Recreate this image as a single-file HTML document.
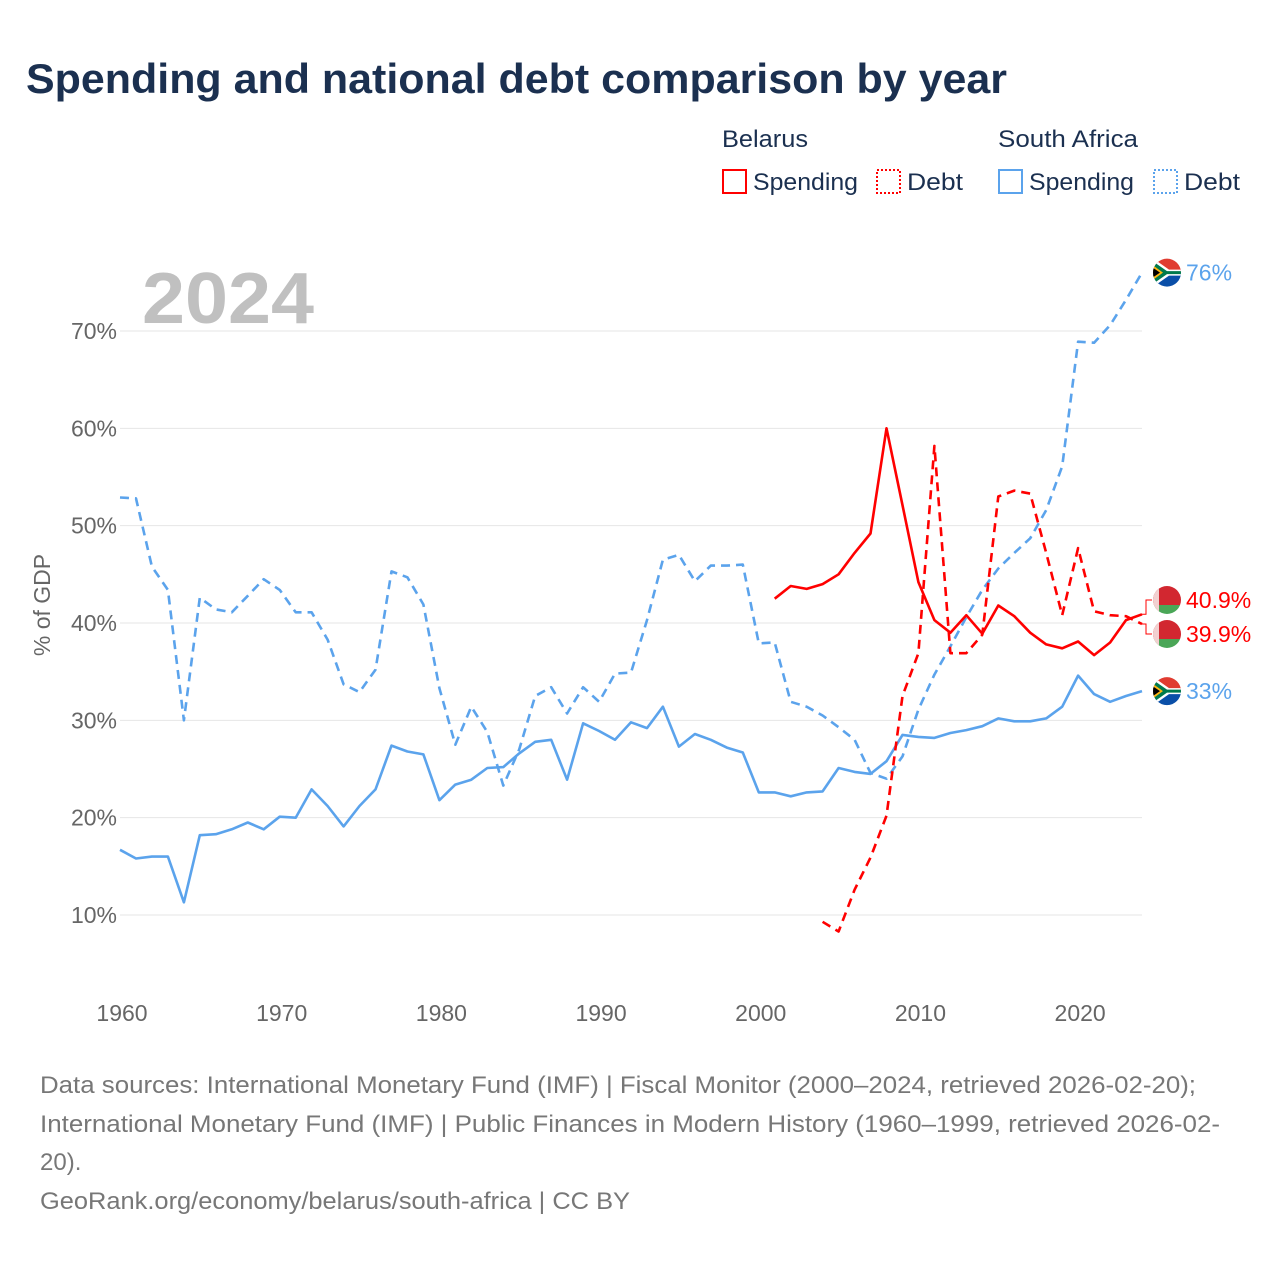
<!DOCTYPE html>
<html><head><meta charset="utf-8"><style>
body{margin:0;background:#fff;font-family:"Liberation Sans",sans-serif}
#wrap{position:relative;width:1280px;height:1280px;overflow:hidden}
</style></head><body>
<div id="wrap">
<svg id="chart" width="1280" height="1280" xmlns="http://www.w3.org/2000/svg">
<defs>
<clipPath id="c1"><circle cx="0" cy="0" r="14"/></clipPath>
</defs>
<text x="26" y="93" font-size="42" font-weight="bold" fill="#1b3050" textLength="981" lengthAdjust="spacingAndGlyphs">Spending and national debt comparison by year</text>
<g font-size="24" fill="#1b3050">
<text x="722" y="147" textLength="86" lengthAdjust="spacingAndGlyphs">Belarus</text>
<text x="998" y="147" textLength="140" lengthAdjust="spacingAndGlyphs">South Africa</text>
<g><rect x="723" y="170" width="23" height="23" fill="none" stroke="#f00" stroke-width="2"/><text x="753" y="190" textLength="105" lengthAdjust="spacingAndGlyphs">Spending</text></g>
<g><rect x="877" y="170" width="23" height="23" fill="none" stroke="#f00" stroke-width="2" stroke-dasharray="2,2"/><text x="907" y="190" textLength="56" lengthAdjust="spacingAndGlyphs">Debt</text></g>
<g><rect x="999" y="170" width="23" height="23" fill="none" stroke="#5ba3ec" stroke-width="2"/><text x="1029" y="190" textLength="105" lengthAdjust="spacingAndGlyphs">Spending</text></g>
<g><rect x="1154" y="170" width="23" height="23" fill="none" stroke="#5ba3ec" stroke-width="2" stroke-dasharray="2,2"/><text x="1184" y="190" textLength="56" lengthAdjust="spacingAndGlyphs">Debt</text></g>
</g>
<text x="142" y="323" font-size="72" font-weight="bold" fill="#c0c0c0" textLength="172" lengthAdjust="spacingAndGlyphs">2024</text>
<g id="grid"></g>
<g id="series"></g>
<g id="ends"></g>
<text transform="translate(50,605) rotate(-90)" text-anchor="middle" font-size="23" fill="#666">% of GDP</text>
<g font-size="24" fill="#777">
<text x="40" y="1093" textLength="1156" lengthAdjust="spacingAndGlyphs">Data sources: International Monetary Fund (IMF) | Fiscal Monitor (2000–2024, retrieved 2026-02-20);</text>
<text x="40" y="1132" textLength="1180" lengthAdjust="spacingAndGlyphs">International Monetary Fund (IMF) | Public Finances in Modern History (1960–1999, retrieved 2026-02-</text>
<text x="40" y="1170">20).</text>
<text x="40" y="1209" textLength="590" lengthAdjust="spacingAndGlyphs">GeoRank.org/economy/belarus/south-africa | CC BY</text>
</g>
</svg>
</div>
<script>
const yTicks=[10,20,30,40,50,60,70];
const xTicks=[1960,1970,1980,1990,2000,2010,2020];
const saYears0=1960;
const saDebt=[52.9,52.8,45.8,43.4,30.0,42.6,41.4,41.1,42.8,44.5,43.4,41.1,41.1,38.3,33.7,32.9,35.2,45.3,44.7,41.9,33.3,27.5,31.4,28.8,23.3,27.0,32.5,33.4,30.7,33.4,31.9,34.8,34.9,40.3,46.5,47.0,44.3,45.9,45.9,46.0,37.9,38.0,31.9,31.4,30.5,29.3,28.0,24.6,24.0,26.3,31.1,34.7,37.6,40.6,43.4,45.6,47.2,48.7,51.6,56.1,68.9,68.8,70.6,73.2,76.0];
const saSpending=[16.7,15.8,16.0,16.0,11.3,18.2,18.3,18.8,19.5,18.8,20.1,20.0,22.9,21.2,19.1,21.2,22.9,27.4,26.8,26.5,21.8,23.4,23.9,25.1,25.2,26.6,27.8,28.0,23.9,29.7,28.9,28.0,29.8,29.2,31.4,27.3,28.6,28.0,27.2,26.7,22.6,22.6,22.2,22.6,22.7,25.1,24.7,24.5,25.8,28.5,28.3,28.2,28.7,29.0,29.4,30.2,29.9,29.9,30.2,31.4,34.6,32.7,31.9,32.5,33.0];
const byYears0Spend=2001;
const bySpending=[42.5,43.8,43.5,44.0,45.0,47.2,49.2,60.0,52.1,44.2,40.3,39.0,40.8,38.9,41.8,40.7,39.0,37.8,37.4,38.1,36.7,38.0,40.3,40.9];
const byYears0Debt=2004;
const byDebt=[9.3,8.3,12.6,15.9,20.2,32.5,36.9,58.2,36.9,36.9,38.8,53.0,53.6,53.3,47.2,40.8,47.7,41.2,40.8,40.7,39.9];

const NS="http://www.w3.org/2000/svg";
const X=y=>120+(y-1960)*(1142-120)/64;
const Y=v=>915-(v-10)*9.733;
function mk(t,a,p){const e=document.createElementNS(NS,t);for(const k in a)e.setAttribute(k,a[k]);p.appendChild(e);return e;}
const grid=document.getElementById('grid');
yTicks.forEach(t=>{
  const l=mk('line',{x1:120,x2:1142,y1:Y(t),y2:Y(t),stroke:'#e6e6e6','stroke-width':1},grid);
  
  
  const tx=mk('text',{x:117,y:Y(t)+8,'text-anchor':'end','font-size':23,fill:'#666'},grid);
  tx.textContent=t+'%';
  
  
});
xTicks.forEach(t=>{
  const tx=mk('text',{x:X(t)+2,y:1021,'text-anchor':'middle','font-size':23,fill:'#666'},grid);
  tx.textContent=t;
  
  
});
const ser=document.getElementById('series');
function line(arr,y0,color,dash,name){
  const d=arr.map((v,i)=>(i?'L':'M')+X(y0+i).toFixed(1)+','+Y(v).toFixed(1)).join('');
  const p=mk('path',{d:d,fill:'none',stroke:color,'stroke-width':2.6,'stroke-linejoin':'round'},ser);
  if(dash)p.setAttribute('stroke-dasharray','9,6');
  
  
}
line(saDebt,saYears0,'#5ba3ec',true,'south-africa-debt-line');
line(saSpending,saYears0,'#5ba3ec',false,'south-africa-spending-line');
line(byDebt,byYears0Debt,'#f00',true,'belarus-debt-line');
line(bySpending,byYears0Spend,'#f00',false,'belarus-spending-line');

const ends=document.getElementById('ends');
function saFlag(cx,cy,name){
  const g=mk('g',{transform:`translate(${cx},${cy})`,'clip-path':'url(#c1)'},ends);
  
  
  mk('rect',{x:-15,y:-15,width:30,height:15,fill:'#e03c31'},g);
  mk('rect',{x:-15,y:0,width:30,height:15,fill:'#0a4fa8'},g);
  mk('path',{d:'M-15,-15 L2,-3 L15,-3 L15,3 L2,3 L-15,15Z',fill:'#fff'},g);
  mk('path',{d:'M-15,-12 L0,-1.5 L15,-1.5 L15,1.5 L0,1.5 L-15,12Z',fill:'#007a4d'},g);
  mk('path',{d:'M-15,-8 L-4,0 L-15,8Z',fill:'#ffb612'},g);
  mk('path',{d:'M-15,-5.5 L-7,0 L-15,5.5Z',fill:'#000'},g);
}
function byFlag(cx,cy,name){
  const g=mk('g',{transform:`translate(${cx},${cy})`,'clip-path':'url(#c1)'},ends);
  
  
  mk('rect',{x:-15,y:-15,width:30,height:20,fill:'#d22730'},g);
  mk('rect',{x:-15,y:5,width:30,height:10,fill:'#4aa657'},g);
  mk('rect',{x:-15,y:-15,width:7,height:30,fill:'#f2d0d0'},g);
}
function endLabel(txt,y,color,name){
  const t=mk('text',{x:1186,y:y+8,'font-size':23,fill:color},ends);
  t.textContent=txt;
  
  
}
const lastSaDebt=saDebt[saDebt.length-1], lastSaSp=saSpending[saSpending.length-1];
const lastBySp=bySpending[bySpending.length-1], lastByDebt=byDebt[byDebt.length-1];
saFlag(1167,Y(lastSaDebt),'south-africa-debt-flag');
endLabel(Math.round(lastSaDebt)+'%',Y(lastSaDebt),'#5ba3ec','south-africa-debt-value');
saFlag(1167,Y(lastSaSp),'south-africa-spending-flag');
endLabel(Math.round(lastSaSp)+'%',Y(lastSaSp),'#5ba3ec','south-africa-spending-value');
const yb1=600,yb2=634;
mk('path',{d:`M1142,${Y(lastBySp)} L1146,${Y(lastBySp)} L1146,${yb1} L1152,${yb1}`,fill:'none',stroke:'#f00','stroke-width':1},ends);
mk('path',{d:`M1142,${Y(lastByDebt)} L1146,${Y(lastByDebt)} L1146,${yb2} L1152,${yb2}`,fill:'none',stroke:'#f00','stroke-width':1},ends);
byFlag(1167,yb1,'belarus-spending-flag');
endLabel(lastBySp.toFixed(1)+'%',yb1,'#f00','belarus-spending-value');
byFlag(1167,yb2,'belarus-debt-flag');
endLabel(lastByDebt.toFixed(1)+'%',yb2,'#f00','belarus-debt-value');
</script>
</body></html>
